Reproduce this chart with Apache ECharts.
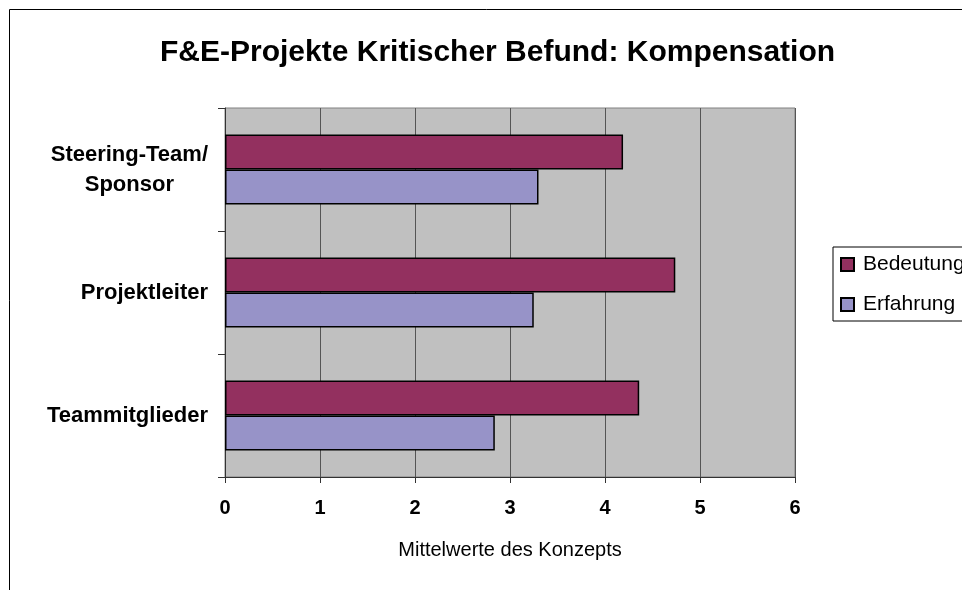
<!DOCTYPE html>
<html>
<head>
<meta charset="utf-8">
<script src="https://cdn.jsdelivr.net/npm/echarts@6/dist/echarts.min.js"></script>
<style>
  html, body { margin: 0; padding: 0; background: #fff; }
  #myChart { width: 962px; height: 590px; }
</style>
</head>
<body>
<div id="myChart"></div>
<script>
// Daten
var categories = ['Steering-Team/\nSponsor', 'Projektleiter', 'Teammitglieder'];
var seriesNames = ['Bedeutung', 'Erfahrung'];
var bedeutung = [4.19, 4.74, 4.36];
var erfahrung = [3.30, 3.25, 2.84];
var xTicks = [0, 1, 2, 3, 4, 5, 6];

var font = "'Liberation Sans', Arial, sans-serif";

var myChart = echarts.init(document.getElementById('myChart'));
var option = {
  animation: false,
  backgroundColor: '#fff',
  graphic: [{
    type: 'rect',
    shape: { x: 9.5, y: 9.5, width: 1200, height: 900 },
    style: { fill: 'none', stroke: '#000', lineWidth: 1 },
    silent: true
  }],
  title: {
    text: 'F&E-Projekte Kritischer Befund: Kompensation',
    left: 155,
    top: 33,
    textStyle: { fontFamily: font, fontSize: 30, fontWeight: 'bold', color: '#000' }
  },
  legend: {
    orient: 'vertical',
    left: 833,
    top: 247,
    padding: [7, 40, 6, 7],
    itemGap: 19,
    itemWidth: 13,
    itemHeight: 13,
    icon: 'rect',
    borderColor: '#000',
    borderWidth: 1,
    data: seriesNames,
    textStyle: { fontFamily: font, fontSize: 21, color: '#000', padding: [0, 0, 0, 4] }
  },
  grid: {
    left: 225,
    right: 167,
    top: 108,
    bottom: 113,
    show: true,
    backgroundColor: '#C0C0C0',
    borderColor: '#808080',
    borderWidth: 1
  },
  xAxis: {
    type: 'value',
    min: xTicks[0],
    max: xTicks[xTicks.length - 1],
    interval: 1,
    name: 'Mittelwerte des Konzepts',
    nameLocation: 'middle',
    nameGap: 63,
    nameTextStyle: { fontFamily: font, fontSize: 20, color: '#000' },
    axisLine: { show: true, lineStyle: { color: '#333', width: 1 } },
    axisTick: { show: true, length: 6, lineStyle: { color: '#333' } },
    axisLabel: { margin: 21, fontFamily: font, fontSize: 20, fontWeight: 'bold', color: '#000' },
    splitLine: { show: true, lineStyle: { color: '#555', width: 1 } }
  },
  yAxis: {
    type: 'category',
    inverse: true,
    data: categories,
    axisLine: { show: true, lineStyle: { color: '#333', width: 1 } },
    axisTick: { show: true, length: 7, lineStyle: { color: '#333' } },
    axisLabel: {
      align: 'right',
      margin: 17,
      formatter: function (v) {
        return v.split('\n').map(function (s) { return '{c|' + s + '}'; }).join('\n');
      },
      rich: {
        c: { align: 'center', fontFamily: font, fontSize: 22, fontWeight: 'bold', color: '#000', lineHeight: 30 }
      }
    },
    splitLine: { show: false }
  },
  series: [
    {
      name: seriesNames[0],
      type: 'bar',
      data: bedeutung,
      barGap: '0%',
      barCategoryGap: '43%',
      itemStyle: { color: '#93305F', borderColor: '#000', borderWidth: 1.5 }
    },
    {
      name: seriesNames[1],
      type: 'bar',
      data: erfahrung,
      itemStyle: { color: '#9793C8', borderColor: '#000', borderWidth: 1.5 }
    }
  ]
};
myChart.setOption(option);
window.onresize = myChart.resize;
</script>
</body>
</html>
